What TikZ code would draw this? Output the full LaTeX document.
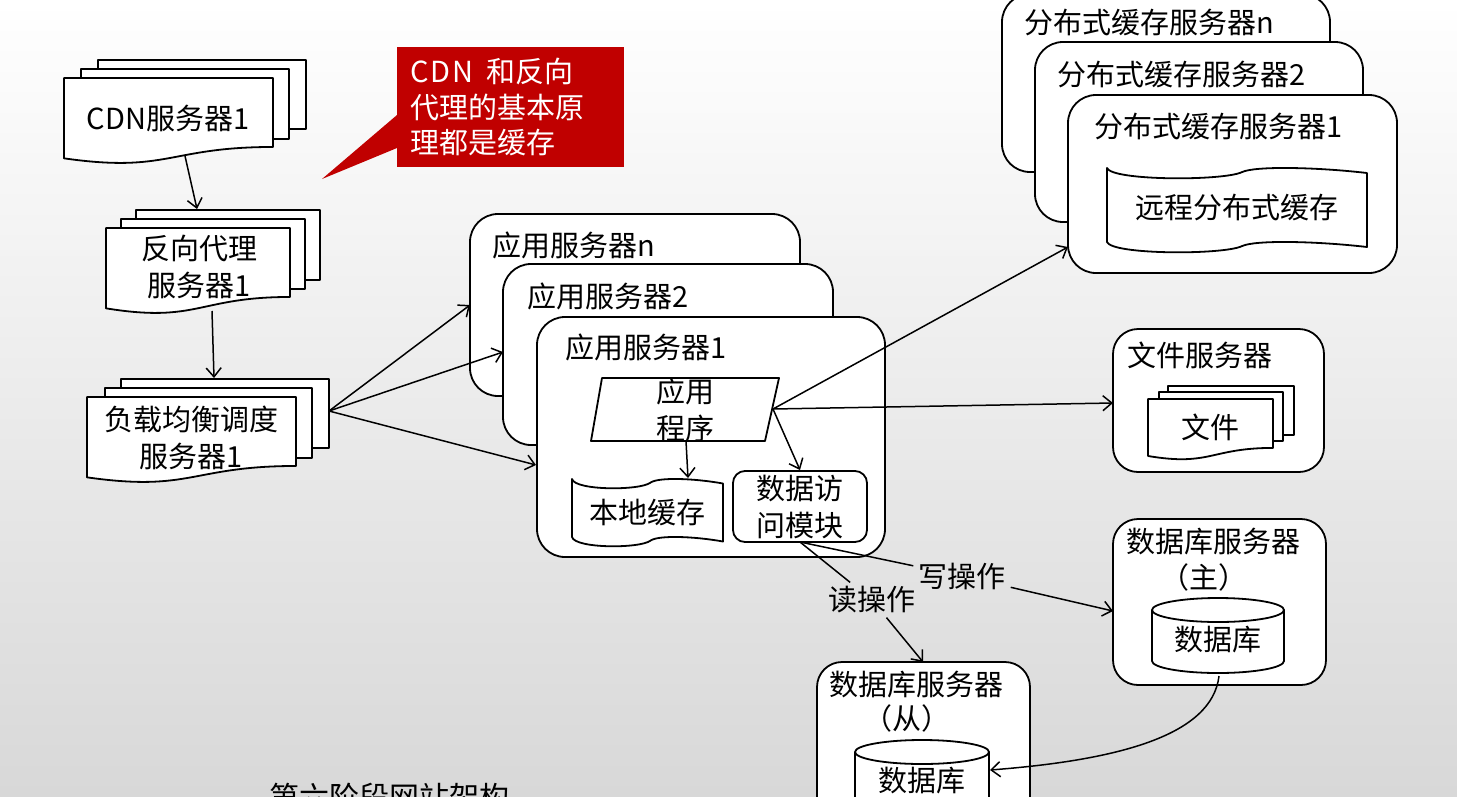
\documentclass[tikz,border=0pt]{standalone}
\usepackage{fontspec}
\setmainfont{Noto Sans CJK SC}
\usetikzlibrary{arrows.meta,calc}
\definecolor{calred}{HTML}{C00000}
\definecolor{bgbot}{HTML}{D8D8D8}
\definecolor{bgmid}{HTML}{F3F3F3}
\tikzset{
  ln/.style={line width=1.8pt, draw=black, line join=round},
  ln2/.style={line width=1.5pt, draw=black},
  arr/.style={line width=1.5pt, draw=black, -{Straight Barb[length=9pt,width=15pt]}},
  txt/.style={font=\fontsize{29}{37}\selectfont, align=center, inner sep=0pt},
  srv/.style={ln, fill=white, rounded corners=28pt, inner sep=0pt},
}
% front document shape: L T R h
\newcommand\docfront[4]{%
  \filldraw[ln,fill=white] (#1,#2) -- (#3,#2) -- (#3,{#2+0.802*#4})
    .. controls ({(#1+#3)/2},{#2+0.802*#4}) and ({(#1+#3)/2},{#2+1.1075*#4}) ..
    (#1,{#2+0.934*#4}) -- cycle;}
% back document sheet: L T R B
\newcommand\docback[4]{\filldraw[ln,fill=white] (#1,#2) rectangle (#3,#4);}
% punched tape: L T R a S
\newcommand\tapeshape[5]{%
  \pgfmathsetmacro\tpw{#3-#1}%
  \filldraw[ln,fill=white] (#1,#2)
    .. controls ({#1+0.02*\tpw},{#2+1.3*#4}) and ({#1+0.45*\tpw},{#2+1.3*#4}) .. ({#1+0.52*\tpw},{#2+0.4*#4})
    .. controls ({#1+0.57*\tpw},{#2-0.2*#4}) and ({#1+0.8*\tpw},{#2-0.1*#4}) .. (#3,{#2+0.5*#4})
    -- (#3,{#2+0.5*#4+#5})
    .. controls ({#1+0.8*\tpw},{#2-0.1*#4+#5}) and ({#1+0.57*\tpw},{#2-0.2*#4+#5}) .. ({#1+0.52*\tpw},{#2+0.4*#4+#5})
    .. controls ({#1+0.45*\tpw},{#2+1.3*#4+#5}) and ({#1+0.02*\tpw},{#2+1.3*#4+#5}) .. (#1,{#2+#5})
    -- cycle;}
% cylinder: L R ytop ybottom
\newcommand\dbcyl[4]{%
  \pgfmathsetmacro\cylcx{(#1+#2)/2}%
  \pgfmathsetmacro\cylrx{(#2-#1)/2}%
  \filldraw[ln,fill=white] (\cylcx,#4) ellipse[x radius=\cylrx, y radius=12];
  \fill[white] (#1,#3) rectangle (#2,#4);
  \draw[ln] (#1,#3) -- (#1,#4) (#2,#3) -- (#2,#4);
  \filldraw[ln,fill=white] (\cylcx,#3) ellipse[x radius=\cylrx, y radius=12];}

\begin{document}
\begin{tikzpicture}[x=1pt,y=-1pt]
\useasboundingbox (0,0) rectangle (1457,796);
\shade[top color=white, middle color=bgmid, bottom color=bgbot] (0,0) rectangle (1457,796);

% callout
\fill[calred] (397,47) rectangle (624,167);
\fill[calred] (322,179) -- (397,115) -- (397,148) -- cycle;
\node[txt, text=white, align=left, anchor=west, font=\fontsize{29}{35.5}\selectfont] (note) at (410,107) {C\kern2ptD\kern2ptN\hspace{0.45em}和反向\\代理的基本原\\理都是缓存};

% CDN stack
\docback{98}{60}{306}{129}
\docback{81}{69}{289}{139}
\docfront{64}{78}{273}{86}
\node[txt] (cdn) at (168,118) {CDN服务器1};

% reverse proxy stack
\docback{136}{210}{320}{280}
\docback{121}{219}{305}{289}
\docfront{106}{228}{290}{86}
\node[txt] (rp) at (199,267) {反向代理\\服务器1};

% load balancer stack
\docback{121}{379}{329}{448}
\docback{105}{388}{312}{458}
\docfront{87}{397}{296}{86}
\node[txt] (lb) at (191,438) {负载均衡调度\\服务器1};

% application servers
\node[srv, minimum width=330pt, minimum height=182pt] (appn) at (635,305) {};
\node[txt, anchor=west] (appnt) at (492,245) {应用服务器n};
\node[srv, minimum width=330pt, minimum height=181pt] (app2) at (668,354.5) {};
\node[txt, anchor=west] (app2t) at (527,296) {应用服务器2};
\node[srv, minimum width=348pt, minimum height=240pt] (app1) at (711,437) {};
\node[txt, anchor=west] (app1t) at (565,347) {应用服务器1};

\filldraw[ln,fill=white] (602,378) -- (779,378) -- (765,441) -- (591,441) -- cycle;
\node[txt] (prog) at (685,410) {应用\\程序};
\tapeshape{572}{479}{723}{9}{58}
\node[txt] (lc) at (647,513) {本地缓存};
\node[ln, fill=white, rounded corners=12pt, minimum width=134pt, minimum height=71pt, inner sep=0pt] (dam) at (800,506.5) {};
\node[txt] (damt) at (800,507) {数据访\\问模块};

% distributed cache servers
\node[srv, minimum width=328pt, minimum height=178pt] (dcn) at (1166,83) {};
\node[txt, anchor=west] (dcnt) at (1024,23) {分布式缓存服务器n};
\node[srv, minimum width=328pt, minimum height=180pt] (dc2) at (1199,132) {};
\node[txt, anchor=west] (dc2t) at (1057,75) {分布式缓存服务器2};
\node[srv, minimum width=329pt, minimum height=178pt] (dc1) at (1232.5,184) {};
\node[txt, anchor=west] (dc1t) at (1094,127) {分布式缓存服务器1};
\tapeshape{1107}{168}{1367}{10}{74}
\node[txt] (rdc) at (1237,208) {远程分布式缓存};

% file server
\node[srv, rounded corners=25pt, minimum width=211pt, minimum height=143pt] (fs) at (1218.5,400.5) {};
\node[txt, anchor=west] (fst) at (1127,355) {文件服务器};
\docback{1168}{386}{1294}{435}
\docback{1159}{392}{1283}{441}
\docfront{1148}{399}{1273}{61}
\node[txt] (file) at (1210,427) {文件};

% database master
\node[srv, rounded corners=25pt, minimum width=213pt, minimum height=166pt] (dbm) at (1219.5,602) {};
\node[txt, anchor=west] (dbmt) at (1126,542) {数据库服务器};
\node[txt] (dbmt2) at (1204,577) {（主）};
\dbcyl{1152}{1284}{610}{661}
\node[txt] (dbmdb) at (1218,640) {数据库};

% database slave
\node[srv, rounded corners=25pt, minimum width=213pt, minimum height=188pt] (dbs) at (923.5,756) {};
\node[txt, anchor=west] (dbst) at (829,685) {数据库服务器};
\node[txt] (dbst2) at (907,718) {（从）};
\dbcyl{855}{989}{752}{805}
\node[txt] (dbsdb) at (922,781) {数据库};

% title at bottom (cut by the lower edge, as in the reference)
\node[txt, font=\fontsize{30}{36}\selectfont] (title) at (389,797) {第六阶段网站架构};

% connector end points
\coordinate (cdnS) at (185,156);
\coordinate (rpN) at (197,209);
\coordinate (rpS) at (212,311);
\coordinate (lbN) at (214,378);
\coordinate (lbE) at (329,411);
\coordinate (appnW) at (470,305);
\coordinate (app2W) at (503,352);
\coordinate (app1W) at (536,465);
\coordinate (progS) at (686,441);
\coordinate (lcN) at (688,478);
\coordinate (progE) at (773,409);
\coordinate (damN) at (800,470);
\coordinate (dc1W) at (1068,247);
\coordinate (fsW) at (1113,403);
\coordinate (damS) at (800,542);
\coordinate (dbmW) at (1113,611);
\coordinate (dbsN) at (923,662);
\coordinate (dbmS) at (1219,676);
\coordinate (dbsE) at (990,770);

% connectors
\draw[arr] (cdnS) -- (rpN);
\draw[arr] (rpS) -- (lbN);
\draw[arr] (lbE) -- (appnW);
\draw[arr] (lbE) -- (app2W);
\draw[arr] (lbE) -- (app1W);
\draw[arr] (progS) -- (lcN);
\draw[arr] (progE) -- (damN);
\draw[arr] (progE) -- (dc1W);
\draw[arr] (progE) -- (fsW);

\node[txt, inner sep=5pt] (wr) at (962,576) {写操作};
\node[txt, inner sep=4pt] (rd) at (872,600) {读操作};
\draw[ln2] (damS) -- (wr);
\draw[arr] (wr) -- (dbmW);
\draw[ln2] (damS) -- (rd);
\draw[arr] (rd) -- (dbsN);
\draw[arr] (dbmS) .. controls (1212,735) and (1120,760) .. (dbsE);
\end{tikzpicture}
\end{document}
